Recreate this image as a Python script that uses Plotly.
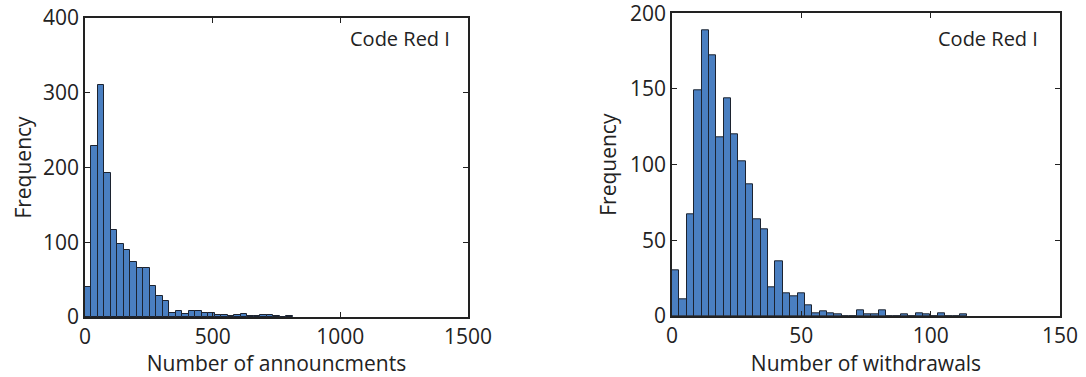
import plotly.graph_objects as go

# ---- data ----
ann_bin_width = 25.4
ann_counts = [40, 229, 310, 193, 116, 98, 90, 74, 65, 65, 42, 28, 21, 6, 8, 4, 8, 8,
              5, 6, 3, 3, 2, 3, 4, 2, 1, 3, 3, 2, 0, 2]
wd_bin_width = 2.854
wd_counts = [30, 11, 67, 149, 189, 172, 118, 144, 120, 102, 87, 64, 57, 19, 36, 15, 13, 15,
             7, 2, 3, 2, 1, 0, 0, 4, 1, 1, 4, 0, 0, 1, 0, 2, 1, 0, 2, 0, 0, 1]
ann_xticks = [0, 500, 1000, 1500]
ann_yticks = [0, 100, 200, 300, 400]
wd_xticks = [0, 50, 100, 150]
wd_yticks = [0, 50, 100, 150, 200]
label_text = "Code Red I"

W, H = 1086, 377
FONT = "Open Sans"
BAR = "#4a7fc1"
EDGE = "#1c2330"

ann_x = [ann_bin_width * (i + 0.5) for i in range(len(ann_counts))]
wd_x = [wd_bin_width * (i + 0.5) for i in range(len(wd_counts))]

fig = go.Figure()
fig.add_trace(go.Bar(x=ann_x, y=ann_counts, width=ann_bin_width,
                     marker=dict(color=BAR, line=dict(color=EDGE, width=1)),
                     xaxis="x", yaxis="y", showlegend=False))
fig.add_trace(go.Bar(x=wd_x, y=wd_counts, width=wd_bin_width,
                     marker=dict(color=BAR, line=dict(color=EDGE, width=1)),
                     xaxis="x2", yaxis="y2", showlegend=False))

def ax(**kw):
    d = dict(showline=True, linecolor="#222", linewidth=1.5, mirror="ticks",
             ticks="inside", ticklen=5, tickcolor="#222", showgrid=False,
             zeroline=False, automargin=False, ticklabeloverflow="allow",
             tickfont=dict(family=FONT, size=21, color="#222"),
             title_font=dict(family=FONT, size=21, color="#222"))
    d.update(kw)
    return d

fig.update_layout(
    width=W, height=H, margin=dict(l=0, r=0, t=0, b=0),
    paper_bgcolor="white", plot_bgcolor="white", bargap=0,
    xaxis=ax(domain=[85 / W, 468 / W], range=[0, 1500], tickvals=ann_xticks,
             title=dict(text="Number of announcments", standoff=2), anchor="y"),
    yaxis=ax(domain=[1 - 317 / H, 1 - 18 / H], range=[0, 400], tickvals=ann_yticks,
             title=dict(text="Frequency", standoff=6), anchor="x"),
    xaxis2=ax(domain=[672 / W, 1060 / W], range=[0, 150], tickvals=wd_xticks,
              title=dict(text="Number of withdrawals", standoff=2), anchor="y2"),
    yaxis2=ax(domain=[1 - 316 / H, 1 - 13.3 / H], range=[0, 200], tickvals=wd_yticks,
              title=dict(text="Frequency", standoff=8), anchor="x2"),
    annotations=[
        dict(text=label_text, xref="x domain", yref="y domain", x=0.958, y=0.93,
             xanchor="right", yanchor="middle", showarrow=False,
             font=dict(family=FONT, size=20, color="#222")),
        dict(text=label_text, xref="x2 domain", yref="y2 domain", x=0.948, y=0.917,
             xanchor="right", yanchor="middle", showarrow=False,
             font=dict(family=FONT, size=20, color="#222")),
    ],
)

fig.write_html("out.html")
